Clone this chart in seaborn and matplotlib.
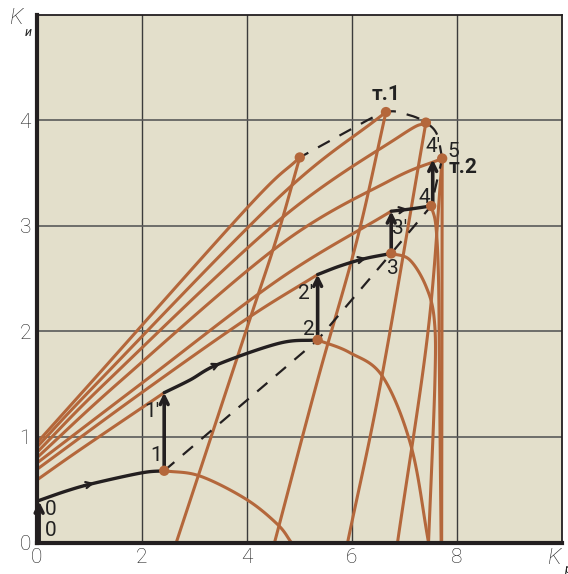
import numpy as np
import matplotlib
matplotlib.use("Agg")
import matplotlib.pyplot as plt
import seaborn as sns

BG = "#e3dfcb"
ORANGE = "#b4673b"
INK = "#231f20"
GRID = "#3c3c3c"
TXT = "#222222"

# ---- black working line (stages between jumps) ----
stage0_x = [0.0, 0.58, 1.08, 2.0, 2.43]
stage0_y = [0.39, 0.49, 0.56, 0.66, 0.68]
stage1_x = [2.43, 2.92, 3.46, 4.63, 5.35]
stage1_y = [1.42, 1.54, 1.69, 1.89, 1.92]
stage2_x = [5.35, 5.77, 6.24, 6.75]
stage2_y = [2.54, 2.62, 2.69, 2.74]
stage3_x = [6.75, 7.10, 7.51]
stage3_y = [3.14, 3.16, 3.19]

# vertical jumps 0->0', 1->1', ...
jump_x = [0.05, 2.43, 5.35, 6.75, 7.54]
jump_lo = [0.0, 0.68, 1.92, 2.74, 3.19]
jump_hi = [0.39, 1.42, 2.54, 3.14, 3.63]

# dashed locus of maxima
locus_x = [2.43, 5.35, 6.75, 7.51, 7.72, 7.62, 7.41, 7.10, 6.65, 5.96, 5.01]
locus_y = [0.68, 1.92, 2.74, 3.19, 3.64, 3.87, 3.98, 4.05, 4.08, 3.91, 3.65]

# orange marked points
dot_x = [2.43, 5.35, 6.75, 7.51, 7.72, 7.41, 6.65, 5.01]
dot_y = [0.68, 1.92, 2.74, 3.19, 3.64, 3.98, 4.08, 3.65]

# orange curves rising from the K_и axis
fan = [
    ([0.0, 0.83, 2.43], [0.59, 0.88, 1.42]),
    ([0.0, 2.0, 4.0, 5.35], [0.69, 1.42, 2.12, 2.54]),
    ([0.0, 2.03, 4.63, 6.75], [0.75, 1.52, 2.50, 3.14]),
    ([0.0, 1.62, 4.63, 6.72, 7.72], [0.80, 1.54, 2.82, 3.43, 3.64]),
    ([0.0, 1.37, 4.63, 6.91, 7.41], [0.85, 1.54, 3.06, 3.85, 3.98]),
    ([0.0, 1.21, 4.63, 6.65], [0.90, 1.54, 3.28, 4.08]),
    ([0.0, 1.08, 4.06, 5.01], [0.94, 1.54, 3.20, 3.65]),
]

# orange curves falling to the K_р axis
fall = [
    ([2.43, 3.11, 3.99, 4.59, 4.85], [0.68, 0.63, 0.41, 0.17, 0.0]),
    ([5.35, 5.96, 6.59, 7.13, 7.46], [1.92, 1.80, 1.57, 0.91, 0.0]),
    ([6.75, 7.10, 7.41, 7.57, 7.58, 7.46], [2.74, 2.68, 2.43, 2.11, 1.5, 0.0]),
    ([7.51, 7.60, 7.65, 7.67, 7.70], [3.19, 3.00, 2.50, 1.50, 0.0]),
    ([7.72, 7.71], [3.64, 0.0]),
    ([7.72, 7.45, 6.87], [3.64, 2.00, 0.0]),
    ([7.41, 6.56, 5.92], [3.98, 1.54, 0.0]),
    ([6.65, 6.10, 5.35, 4.53], [4.08, 2.87, 1.54, 0.0]),
    ([5.01, 4.56, 3.99, 2.66], [3.65, 2.87, 2.01, 0.0]),
]

labels = [
    ("0", 0.27, 0.31), ("0", 0.27, 0.11),
    ("1", 2.28, 0.82), ("1'", 2.19, 1.24),
    ("2", 5.19, 2.02), ("2'", 5.13, 2.36),
    ("3", 6.78, 2.60), ("3'", 6.91, 2.98),
    ("4", 7.38, 3.27), ("4'", 7.55, 3.75), ("5", 7.93, 3.71),
]


def smooth(xs, ys, n=24):
    p = np.column_stack([xs, ys]).astype(float)
    if len(p) < 3:
        return p[:, 0], p[:, 1]
    p = np.vstack([2 * p[0] - p[1], p, 2 * p[-1] - p[-2]])
    t = np.linspace(0, 1, n, endpoint=False)[:, None]
    out = []
    for i in range(1, len(p) - 2):
        p0, p1, p2, p3 = p[i - 1], p[i], p[i + 1], p[i + 2]
        out.append(0.5 * (2 * p1 + (-p0 + p2) * t
                          + (2 * p0 - 5 * p1 + 4 * p2 - p3) * t ** 2
                          + (-p0 + 3 * p1 - 3 * p2 + p3) * t ** 3))
    out.append(p[-2][None])
    out = np.vstack(out)
    return out[:, 0], out[:, 1]


def curve(ax, xs, ys, **kw):
    sx, sy = smooth(xs, ys)
    sns.lineplot(x=sx, y=sy, sort=False, estimator=None, ax=ax, **kw)


sns.set_theme(style="white")
plt.rcParams["font.family"] = ["Roboto", "DejaVu Sans"]

fig = plt.figure(figsize=(5.68, 5.74), dpi=100)
fig.patch.set_facecolor("white")
ax = fig.add_axes([36.5 / 568, 1 - 542.5 / 574, (562 - 36.5) / 568, (542.5 - 15) / 574])
ax.set_facecolor(BG)

for xs, ys in fan:
    curve(ax, xs, ys, color=ORANGE, lw=2.2)
for xs, ys in fall:
    curve(ax, xs, ys, color=ORANGE, lw=2.2)

# dashed locus: straight lower part, smooth upper arc
ax.plot(locus_x[:5], locus_y[:5], color=INK, lw=1.6, dashes=(6, 5))
lx, ly = smooth(locus_x[4:], locus_y[4:])
ax.plot(lx, ly, color=INK, lw=1.6, dashes=(6, 5))

for xs, ys in [(stage0_x, stage0_y), (stage1_x, stage1_y),
               (stage2_x, stage2_y), (stage3_x, stage3_y)]:
    curve(ax, xs, ys, color=INK, lw=2.4)

# small arrowheads along the stages
for (x0, y0), (x1, y1) in [((0.9, 0.54), (1.1, 0.563)), ((3.3, 1.655), (3.5, 1.70)),
                           ((6.1, 2.675), (6.28, 2.695)), ((6.9, 3.15), (7.06, 3.163))]:
    ax.annotate("", xy=(x1, y1), xytext=(x0, y0),
                arrowprops=dict(arrowstyle="->", color=INK, lw=1.6,
                                mutation_scale=11, shrinkA=0, shrinkB=0))

for x, lo, hi in zip(jump_x, jump_lo, jump_hi):
    ax.annotate("", xy=(x, hi), xytext=(x, lo),
                arrowprops=dict(arrowstyle="->", color=INK, lw=2.6,
                                mutation_scale=14, shrinkA=0, shrinkB=0))

sns.scatterplot(x=dot_x, y=dot_y, color=ORANGE, s=55, edgecolor="none", zorder=5, ax=ax)

for txt, x, y in labels:
    ax.text(x, y, txt, fontsize=15, color=TXT, ha="center", va="center")
ax.text(6.65, 4.25, "т.1", fontsize=15, fontweight="bold", color=TXT,
        ha="center", va="center")
ax.text(8.12, 3.55, "т.2", fontsize=15, fontweight="bold", color=TXT,
        ha="center", va="center")

ax.set_xlim(0, 10)
ax.set_ylim(0, 5)
ax.set_xticks([0, 2, 4, 6, 8])
ax.set_yticks([0, 1, 2, 3, 4])
ax.set_xticklabels(["0", "2", "4", "6", "8"], fontweight="light")
ax.set_yticklabels(["0", "1", "2", "3", "4"], fontweight="light")
ax.tick_params(length=0, labelsize=15, colors=TXT, pad=4)
ax.grid(axis="x", color=GRID, lw=1.0)
ax.grid(axis="y", color="#5a5a5a", lw=1.2)
ax.set_axisbelow(True)
for side in ["left", "bottom"]:
    ax.spines[side].set_linewidth(3)
    ax.spines[side].set_color(INK)
for side in ["top", "right"]:
    ax.spines[side].set_linewidth(1.3)
    ax.spines[side].set_color(INK)
    ax.spines[side].set_visible(True)

fig.text(16 / 568, 1 - 19 / 574, "K", fontsize=16, style="italic", color=TXT,
         fontweight="light", ha="center", va="center")
fig.text(28 / 568, 1 - 33 / 574, "и", fontsize=9, style="italic", color=TXT,
         ha="center", va="center")
fig.text(554 / 568, 1 - 559 / 574, "K", fontsize=16, style="italic", color=TXT,
         fontweight="light", ha="center", va="center")
fig.text(564 / 568, 1 - 569 / 574, "р", fontsize=9, style="italic", color=TXT,
         ha="left", va="center")

fig.savefig("out.png", dpi=100, facecolor="white")
